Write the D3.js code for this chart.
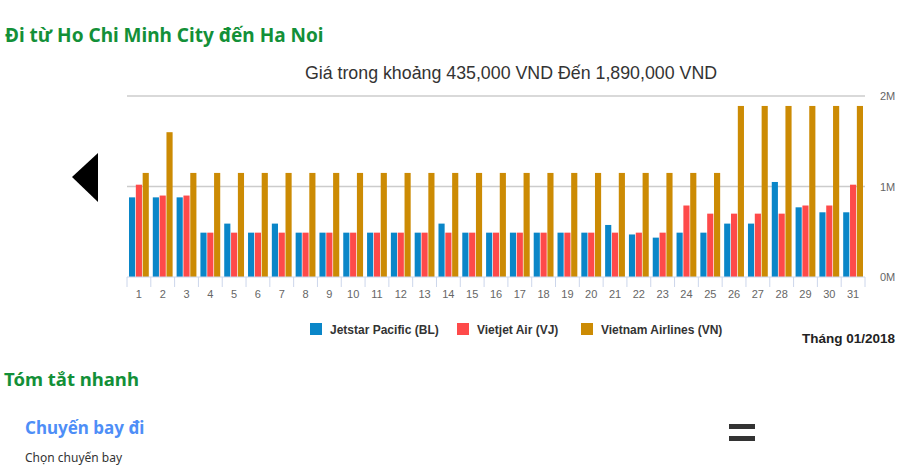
<!DOCTYPE html>
<html>
<head>
<meta charset="utf-8">
<script src="https://cdn.jsdelivr.net/npm/d3@7"></script>
<style>
  body { margin: 0; background: #fff; }
  svg { display: block; }
</style>
</head>
<body>
<svg id="chart" width="900" height="471"></svg>
<script>
const days = d3.range(1, 32).map(String);
const airlines = ["Jetstar Pacific (BL)", "Vietjet Air (VJ)", "Vietnam Airlines (VN)"];
const airline_colors = ["#0a86c8", "#fe4a4a", "#cc8b04"];

// prices per day (VND)
const jetstar = [880000, 880000, 880000, 490000, 590000, 490000, 590000, 490000, 490000, 490000,
                 490000, 490000, 490000, 590000, 490000, 490000, 490000, 490000, 490000, 490000,
                 575000, 470000, 435000, 490000, 490000, 590000, 590000, 1050000, 770000, 715000, 715000];
const vietjet = [1020000, 900000, 900000, 490000, 490000, 490000, 490000, 490000, 490000, 490000,
                 490000, 490000, 490000, 490000, 490000, 490000, 490000, 490000, 490000, 490000,
                 490000, 490000, 490000, 790000, 700000, 700000, 700000, 700000, 790000, 790000, 1020000];
const vna = [1150000, 1600000, 1150000, 1150000, 1150000, 1150000, 1150000, 1150000, 1150000, 1150000,
             1150000, 1150000, 1150000, 1150000, 1150000, 1150000, 1150000, 1150000, 1150000, 1150000,
             1150000, 1150000, 1150000, 1150000, 1150000, 1890000, 1890000, 1890000, 1890000, 1890000, 1890000];
const y_ticks = [0, 1000000, 2000000];

const series = [jetstar, vietjet, vna];
const svg = d3.select("#chart");
const font = "'Liberation Sans', Arial, sans-serif";
const head_font = "'Noto Sans', 'Open Sans', sans-serif";

// page headings
svg.append("text").attr("x", 5).attr("y", 42)
    .attr("font-family", head_font).attr("font-weight", "bold").attr("font-size", 19)
    .attr("fill", "#139038").text("Đi từ Ho Chi Minh City đến Ha Noi");

svg.append("text").attr("x", 511).attr("y", 79).attr("text-anchor", "middle")
    .attr("font-family", font).attr("font-size", 17.8).attr("fill", "#333")
    .text("Giá trong khoảng 435,000 VND Đến 1,890,000 VND");

// left arrow
svg.append("polygon").attr("points", "72,177 98,153 98,202").attr("fill", "#000");

const plot = { left: 127, right: 865, top: 96, bottom: 277 };

const x = d3.scaleBand().domain(days).range([plot.left, plot.right]);
const xSub = d3.scaleBand().domain(d3.range(3)).range([2, x.bandwidth() - 2]).paddingInner(0.1);
const y = d3.scaleLinear().domain([0, 2000000]).range([plot.bottom, plot.top]);

// gridlines
svg.append("g").selectAll("line").data(y_ticks.slice(1)).join("line")
    .attr("x1", plot.left).attr("x2", plot.right)
    .attr("y1", d => y(d)).attr("y2", d => y(d))
    .attr("stroke", "#ccc").attr("stroke-width", 1.5);

// y labels on the right
svg.append("g").selectAll("text").data(y_ticks).join("text")
    .attr("x", 880).attr("y", d => y(d) + 4)
    .attr("font-family", font).attr("font-size", 11).attr("fill", "#666")
    .text(d => (d / 1000000) + "M");

// bars
const groups = svg.append("g").selectAll("g").data(days).join("g")
    .attr("transform", d => `translate(${x(d)},0)`);

groups.selectAll("rect").data((d, i) => series.map((s, k) => ({ k: k, v: s[i] }))).join("rect")
    .attr("x", d => xSub(d.k))
    .attr("width", xSub.bandwidth())
    .attr("y", d => y(d.v))
    .attr("height", d => y(0) - y(d.v))
    .attr("fill", d => airline_colors[d.k]);

// x axis
const xAxis = svg.append("g").attr("transform", `translate(0,${plot.bottom})`);
xAxis.append("line").attr("x1", plot.left).attr("x2", plot.right)
    .attr("stroke", "#ccd6eb");
xAxis.selectAll("line.tick").data(days.concat(["end"])).join("line")
    .attr("class", "tick")
    .attr("x1", d => d === "end" ? plot.right : x(d))
    .attr("x2", d => d === "end" ? plot.right : x(d))
    .attr("y1", 0).attr("y2", 10)
    .attr("stroke", "#ccd6eb");
xAxis.selectAll("text").data(days).join("text")
    .attr("x", d => x(d) + x.bandwidth() / 2).attr("y", 21)
    .attr("text-anchor", "middle")
    .attr("font-family", font).attr("font-size", 11).attr("fill", "#666")
    .text(d => d);

// legend
const legend_x = [310, 457, 581];
const legend = svg.append("g").selectAll("g").data(airlines).join("g")
    .attr("transform", (d, i) => `translate(${legend_x[i]},323)`);
legend.append("rect").attr("width", 12).attr("height", 12)
    .attr("fill", (d, i) => airline_colors[i]);
legend.append("text").attr("x", 20).attr("y", 10.5)
    .attr("font-family", font).attr("font-weight", "bold").attr("font-size", 12)
    .attr("fill", "#333").text(d => d);

svg.append("text").attr("x", 895).attr("y", 343).attr("text-anchor", "end")
    .attr("font-family", font).attr("font-weight", "bold").attr("font-size", 13.5)
    .attr("fill", "#222").text("Tháng 01/2018");

// summary block below
svg.append("text").attr("x", 4).attr("y", 386)
    .attr("font-family", head_font).attr("font-weight", "bold").attr("font-size", 18.5)
    .attr("fill", "#139038").text("Tóm tắt nhanh");

svg.append("text").attr("x", 25).attr("y", 434)
    .attr("font-family", head_font).attr("font-weight", "bold").attr("font-size", 17)
    .attr("fill", "#4e8ef7").text("Chuyến bay đi");

svg.append("text").attr("x", 25).attr("y", 462)
    .attr("font-family", head_font).attr("font-size", 12)
    .attr("fill", "#333").text("Chọn chuyến bay");

svg.append("rect").attr("x", 729).attr("y", 424).attr("width", 26).attr("height", 5).attr("fill", "#333");
svg.append("rect").attr("x", 729).attr("y", 436).attr("width", 26).attr("height", 5).attr("fill", "#333");
</script>
</body>
</html>
